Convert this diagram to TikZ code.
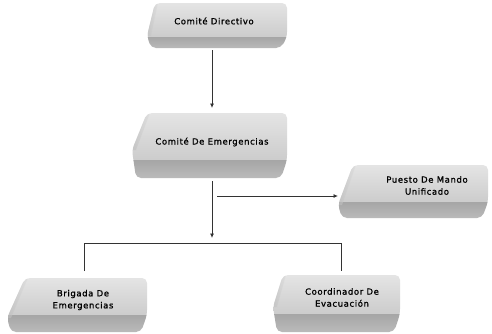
\documentclass[tikz,border=0pt]{standalone}
\usepackage{fontspec}
\setmainfont{DejaVu Sans}
\newfontfamily\boxfont[LetterSpace=7, FakeBold=1]{DejaVu Sans}
\usetikzlibrary{arrows.meta}
\tikzset{
  x=1pt, y=-1pt,
  slabnode/.style={inner sep=0pt, outer sep=0pt},
  lbl/.style={font=\boxfont\fontsize{8.5}{12}\selectfont, align=center, text=black, inner sep=0pt},
  conn/.style={draw=black!80, line width=0.8pt},
  arr/.style={conn, -{Latex[length=4.5pt,width=4pt]}},
}
% L T R B  a(top-left x)  yl(left extreme y)  yb(band top y)
\newcommand\slabshape[7]{%
  \begin{scope}
    \clip[rounded corners=5pt] (#5,#2) -- (#3,#2) -- (#3,#7) -- (#3-6,#4) -- (#1+4,#4) -- (#1,#6) -- cycle;
    \shade[top color=gray!20, bottom color=gray!40] (#1-2,#2-2) rectangle (#3+2,#7);
    \shade[top color=gray!70, bottom color=gray!52] (#1-2,#7) rectangle (#3+2,#4+2);
    \shade[left color=gray!55, right color=gray!28, opacity=0.6] (#1-2,#2) -- (#5+3,#2) -- (#1+4,#6) -- (#1-2,#6) -- cycle;
  \end{scope}}
\begin{document}
\begin{tikzpicture}
\useasboundingbox (0,0) rectangle (492,333);
\fill[white] (0,0) rectangle (492,333);

% slabs
\slabshape{147}{3}{287}{48}{155}{36}{37}
\slabshape{132}{113}{287}{178}{147}{150}{160}
\slabshape{338}{165}{488}{218}{353}{205}{202}
\slabshape{7}{278}{147}{332}{25}{318}{315}
\slabshape{273}{275}{400}{332}{283}{307}{314}

% nodes (box extents) with their texts
\node[slabnode, minimum width=140, minimum height=45,
  label={[lbl, xshift=-3pt, yshift=4.5pt]center:Comité Directivo}] (b1) at (217,25.5) {};
\node[slabnode, minimum width=155, minimum height=65,
  label={[lbl, xshift=2.5pt, yshift=3.5pt]center:Comité De Emergencias}] (b2) at (209.5,145.5) {};
\node[slabnode, minimum width=150, minimum height=53,
  label={[lbl, xshift=14pt, yshift=6pt]center:Puesto De Mando\\Unificado}] (b3) at (413,191.5) {};
\node[slabnode, minimum width=140, minimum height=54,
  label={[lbl, xshift=6pt, yshift=5pt]center:Brigada De\\Emergencias}] (b4) at (77,305) {};
\node[slabnode, minimum width=127, minimum height=57,
  label={[lbl, xshift=5.5pt, yshift=6pt]center:Coordinador De\\Evacuación}] (b5) at (336.5,303.5) {};

% junctions
\coordinate (j1) at (212,196);
\coordinate (j2) at (212,243);
\coordinate (j3) at (84,243);
\coordinate (j4) at (341,243);

% connectors
\draw[arr, shorten <=2pt, shorten >=5pt] (b1.south -| j1) -- (b2.north -| j1);
\draw[arr, shorten <=3pt, shorten >=5pt] (b2.south -| j1) -- (j2);
\draw[arr, shorten <=2pt] ([xshift=3pt]j1) -- (b3.west |- j1);
\draw[conn, shorten <=7pt, shorten >=4pt] (j3 |- b4.north) -- (j3) -- (j4) -- (j4 |- b5.north);
\end{tikzpicture}
\end{document}
